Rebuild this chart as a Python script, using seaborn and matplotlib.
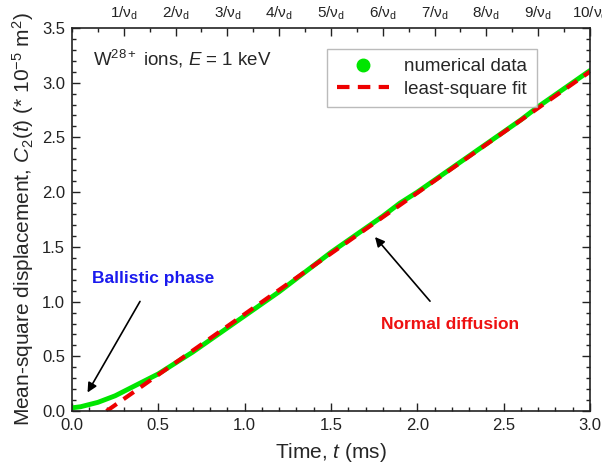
import numpy as np
import pandas as pd
import matplotlib
matplotlib.use("Agg")
import matplotlib.pyplot as plt
import seaborn as sns
from matplotlib.ticker import MultipleLocator
from matplotlib.lines import Line2D

# numerical data (t in ms, C2 in 1e-5 m^2)
time_ms = [0.0, 0.05, 0.1, 0.15, 0.2, 0.25, 0.3, 0.35, 0.4, 0.5, 0.6, 0.7, 0.8, 0.9,
           1.0, 1.1, 1.2, 1.3, 1.4, 1.5, 1.6, 1.7, 1.8, 1.9, 2.0, 2.1, 2.2, 2.3,
           2.4, 2.5, 2.6, 2.7, 2.8, 2.9, 3.0]
c2_data = [0.03, 0.04, 0.06, 0.08, 0.11, 0.14, 0.18, 0.22, 0.26, 0.34, 0.44, 0.54,
           0.65, 0.76, 0.87, 0.98, 1.09, 1.21, 1.33, 1.45, 1.56, 1.67, 1.78, 1.90,
           2.00, 2.11, 2.22, 2.33, 2.44, 2.55, 2.66, 2.78, 2.89, 3.00, 3.11]

# least-square fit line
fit_t = [0.2, 3.0]
fit_c = [0.0, 3.1]

# top axis: multiples of 1/nu_d
top_ticks = [0.3, 0.6, 0.9, 1.2, 1.5, 1.8, 2.1, 2.4, 2.7, 3.0]
top_labels = ["%d/ν$_\\mathrm{d}$" % k for k in range(1, 11)]

sns.set_style("ticks")
plt.rcParams["font.family"] = ["Liberation Sans", "DejaVu Sans"]
plt.rcParams["mathtext.fontset"] = "custom"
plt.rcParams["mathtext.rm"] = "Liberation Sans"
plt.rcParams["mathtext.it"] = "Liberation Sans:italic"

df_data = pd.DataFrame({"t": time_ms, "c": c2_data})
df_fit = pd.DataFrame({"t": fit_t, "c": fit_c})

fig = plt.figure(figsize=(6.02, 4.72), dpi=100)
ax = fig.add_axes([0.1196, 0.129, 0.8604, 0.812])

sns.lineplot(data=df_data, x="t", y="c", ax=ax, color="#00e600", linewidth=3.5)
sns.lineplot(data=df_fit, x="t", y="c", ax=ax, color="#ee0000", linewidth=3,
             linestyle=(0, (3, 2)))

ax.set_xlim(0, 3.0)
ax.set_ylim(0, 3.5)
ax.xaxis.set_major_locator(MultipleLocator(0.5))
ax.xaxis.set_minor_locator(MultipleLocator(0.1))
ax.yaxis.set_major_locator(MultipleLocator(0.5))
ax.yaxis.set_minor_locator(MultipleLocator(0.1))
ax.xaxis.set_major_formatter(plt.FormatStrFormatter("%.1f"))
ax.yaxis.set_major_formatter(plt.FormatStrFormatter("%.1f"))
ax.tick_params(which="both", direction="in", right=True, top=False, labelsize=12,
               colors="#222222")
ax.tick_params(which="major", length=6, width=1, pad=5)
ax.tick_params(which="minor", length=3, width=1)
for sp in ax.spines.values():
    sp.set_linewidth(1.2)
    sp.set_color("#222222")

ax.set_xlabel(r"Time, $\it{t}$ (ms)", fontsize=15, labelpad=6)
ax.set_ylabel(r"Mean-square displacement, $C_2(\it{t})$ (* 10$^{-5}$ m$^2$)",
              fontsize=15, labelpad=4)

# top axis in units of 1/nu_d
top = ax.twiny()
top.set_xlim(ax.get_xlim())
top.set_xticks(top_ticks)
top.set_xticklabels(top_labels)
top.xaxis.set_minor_locator(MultipleLocator(0.15))
top.tick_params(which="both", direction="in", labelsize=11, colors="#222222", pad=4)
top.tick_params(which="major", length=6, width=1)
top.tick_params(which="minor", length=3, width=1)
for sp in top.spines.values():
    sp.set_visible(False)

ax.text(0.12, 3.22, r"W$^{28+}$ ions, $\it{E}$ = 1 keV", fontsize=13.5, va="center")

ax.annotate("Ballistic phase", xy=(0.09, 0.17), xytext=(0.47, 1.21),
            fontsize=12.5, fontweight="bold", color="#1a1aee", ha="center", va="center",
            arrowprops=dict(arrowstyle="-|>", color="black", lw=1.2,
                            shrinkA=10, shrinkB=0, mutation_scale=14))
ax.annotate("Normal diffusion", xy=(1.755, 1.59), xytext=(2.19, 0.79),
            fontsize=12.5, fontweight="bold", color="#ee1111", ha="center", va="center",
            arrowprops=dict(arrowstyle="-|>", color="black", lw=1.2,
                            shrinkA=12, shrinkB=0, mutation_scale=14))

# legend
handles = [Line2D([], [], marker="o", color="#00e600", linestyle="none", markersize=9),
           Line2D([], [], color="#ee0000", linewidth=3, linestyle=(0, (3, 2)))]
ax.legend(handles, ["numerical data", "least-square fit"], loc="upper right",
          bbox_to_anchor=(0.915, 0.97), fontsize=13.5, frameon=True, fancybox=False,
          edgecolor="#aaaaaa", handlelength=2.8, borderpad=0.5, labelspacing=0.3)

fig.savefig("out.png", dpi=100)
